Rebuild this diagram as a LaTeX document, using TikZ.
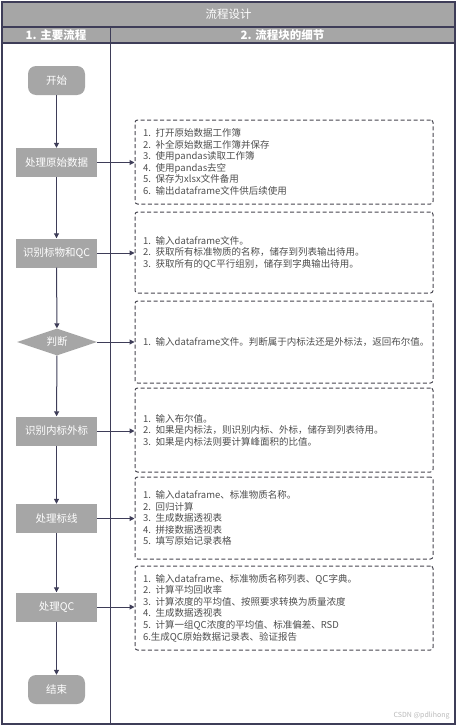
\documentclass[tikz,border=0pt]{standalone}
\usepackage{fontspec}
\setmainfont{Noto Sans CJK SC}
\usetikzlibrary{shapes.geometric,arrows.meta}
\definecolor{framec}{HTML}{3E3D58}
\definecolor{boxgray}{HTML}{A6A6A6}
\definecolor{textgray}{HTML}{4D4D4D}
\definecolor{dashc}{HTML}{46454F}
\tikzset{
  mainbox/.style={fill=boxgray, text=white, minimum width=81pt, minimum height=29pt,
    inner sep=0pt, font=\fontsize{10.5}{12}\selectfont},
  termbox/.style={mainbox, rounded corners=8pt, minimum width=57pt},
  decbox/.style={mainbox, diamond, aspect=3, minimum width=80pt, minimum height=27pt},
  detail/.style={draw=dashc, dash pattern=on 4pt off 2.5pt, rounded corners=2.5pt,
    line width=1pt, text width=282pt, inner xsep=8pt, inner ysep=0pt, align=left,
    text=textgray, font=\fontsize{9.5}{11.6}\selectfont},
  flow/.style={draw=framec, line width=1pt, -{Triangle[length=5pt,width=5pt]}},
  headtext/.style={text=white, font=\bfseries\fontsize{11.5}{13}\selectfont}
}
\begin{document}
\begin{tikzpicture}[x=1pt, y=-1pt]
  \useasboundingbox (0,0) rectangle (458,728);

  % frame and header
  \fill[boxgray] (2,2) rectangle (455,43);
  \draw[framec, line width=1.2pt] (2,2) rectangle (455,724);
  \draw[framec, line width=1.2pt] (2,27) -- (455,27);
  \draw[framec, line width=1.2pt] (2,43) -- (455,43);
  \draw[framec, line width=0.8pt] (110,27) -- (110,724);
  \node[text=white, font=\fontsize{11.5}{13}\selectfont] (title) at (228.5,14.5) {流程设计};
  \node[headtext] (head1) at (56,35) {1. 主要流程};
  \node[headtext] (head2) at (282.5,35) {2. 流程块的细节};

  % main flow
  \node[termbox] (start) at (56.5,80.5) {开始};
  \node[mainbox] (raw) at (56.5,162.5) {处理原始数据};
  \node[mainbox] (ident) at (56.5,253) {识别标物和QC};
  \node[decbox] (judge) at (57,342) {判断};
  \node[mainbox] (inner) at (56.5,431) {识别内标外标};
  \node[mainbox] (curve) at (56.5,518.5) {处理标线};
  \node[mainbox] (qc) at (56.5,607) {处理QC};
  \node[termbox] (stop) at (56.5,689.5) {结束};

  \draw[flow] (start) -- (raw);
  \draw[flow] (raw) -- (ident);
  \draw[flow] (ident) -- (judge);
  \draw[flow] (judge) -- (inner);
  \draw[flow] (inner) -- (curve);
  \draw[flow] (curve) -- (qc);
  \draw[flow] (qc) -- (stop);

  % details
  \node[detail, minimum height=84pt] (d1) at (284,162) {1. 打开原始数据工作簿\\2. 补全原始数据工作簿并保存\\3. 使用pandas读取工作簿\\4. 使用pandas去空\\5. 保存为xlsx文件备用\\6. 输出dataframe文件供后续使用};
  \node[detail, minimum height=81pt] (d2) at (284,252.5) {1. 输入dataframe文件。\\2. 获取所有标准物质的名称，储存到列表输出待用。\\3. 获取所有的QC平行组别，储存到字典输出待用。};
  \node[detail, minimum height=82pt] (d3) at (284,342) {1. 输入dataframe文件。判断属于内标法还是外标法，返回布尔值。};
  \node[detail, minimum height=84pt] (d4) at (284,430) {1. 输入布尔值。\\2. 如果是内标法，则识别内标、外标，储存到列表待用。\\3. 如果是内标法则要计算峰面积的比值。};
  \node[detail, minimum height=82pt] (d5) at (284,518) {1. 输入dataframe、标准物质名称。\\2. 回归计算\\3. 生成数据透视表\\4. 拼接数据透视表\\5. 填写原始记录表格};
  \node[detail, minimum height=84pt] (d6) at (284,608) {1. 输入dataframe、标准物质名称列表、QC字典。\\2. 计算平均回收率\\3. 计算浓度的平均值、按照要求转换为质量浓度\\4. 生成数据透视表\\5. 计算一组QC浓度的平均值、标准偏差、RSD\\6.生成QC原始数据记录表、验证报告};

  \draw[flow] (raw.east) -- (raw.east -| d1.west);
  \draw[flow] (ident.east) -- (ident.east -| d2.west);
  \draw[flow] (judge.east) -- (judge.east -| d3.west);
  \draw[flow] (inner.east) -- (inner.east -| d4.west);
  \draw[flow] (curve.east) -- (curve.east -| d5.west);
  \draw[flow] (qc.east) -- (qc.east -| d6.west);

  \node[anchor=east, text=gray!55, font=\fontsize{7}{8}\selectfont] (mark) at (453,716) {CSDN @pdlihong};
\end{tikzpicture}
\end{document}
